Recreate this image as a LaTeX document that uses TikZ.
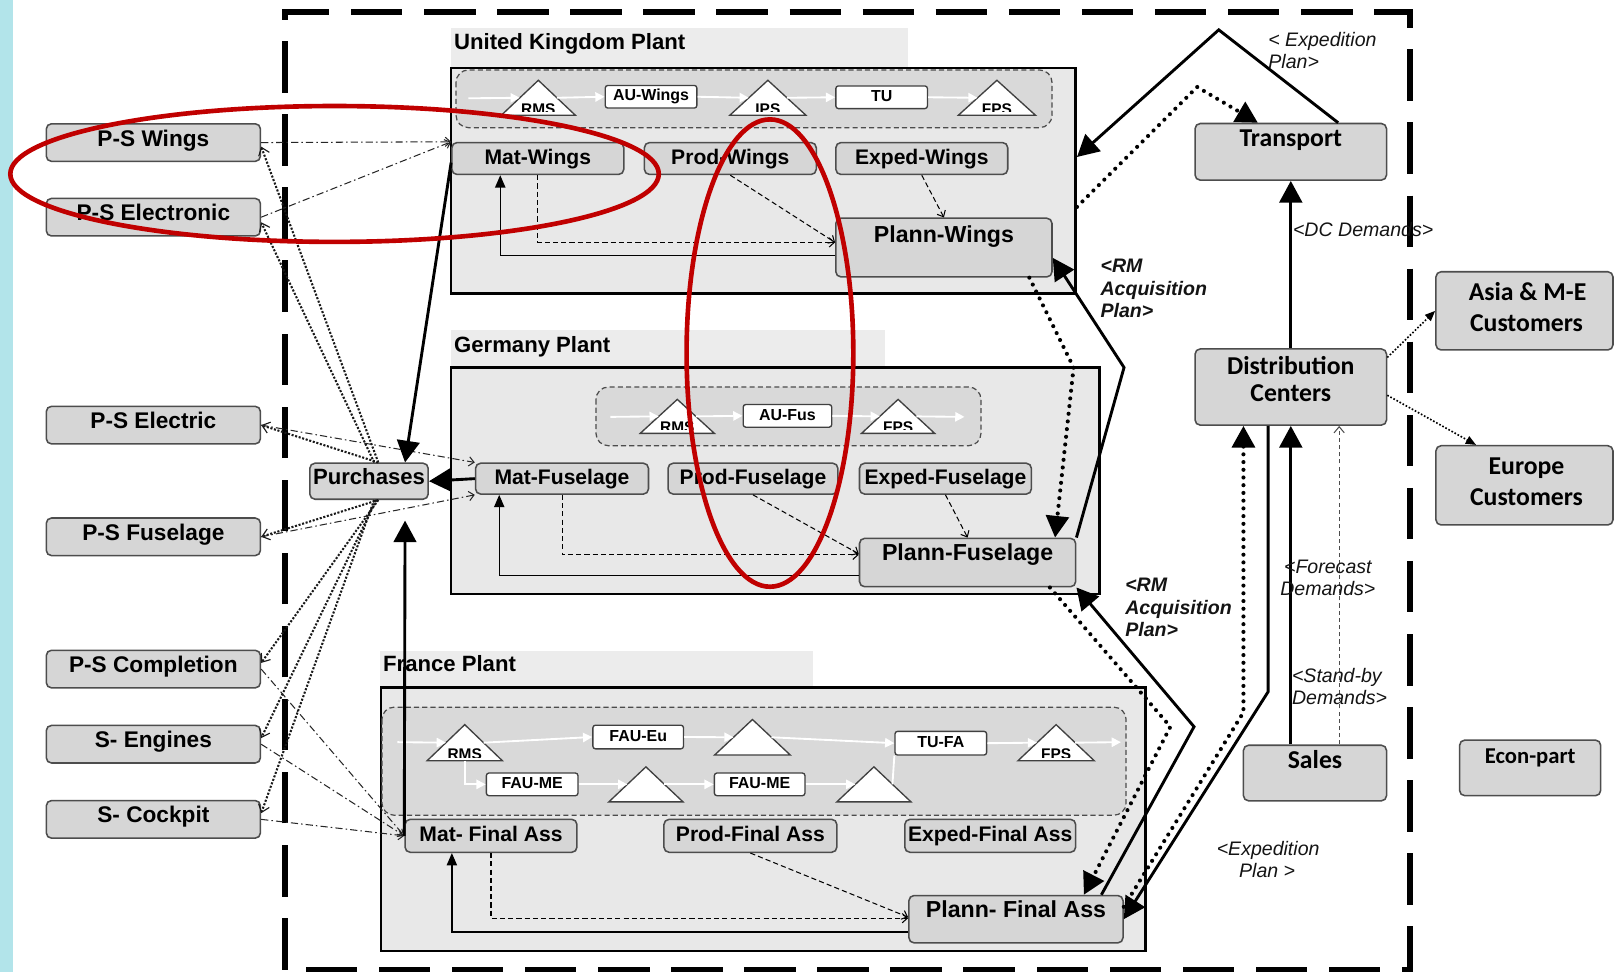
\documentclass[tikz,border=0pt]{standalone}
\usepackage{fontspec}
\setmainfont{Liberation Sans}
\newfontfamily\carl{Carlito}
\usetikzlibrary{arrows.meta}

\definecolor{boxfill}{HTML}{D6D6D6}
\definecolor{boxline}{HTML}{4D4D4D}
\definecolor{plantfill}{HTML}{E8E8E8}
\definecolor{labfill}{HTML}{ECECEC}
\definecolor{flowfill}{HTML}{D9D9D9}
\definecolor{markred}{HTML}{C00000}
\definecolor{stripcol}{HTML}{B2E4EA}
\definecolor{labtext}{HTML}{141414}

% triangle buffer: name, centre x, base y, width, height, label
\newcommand{\plantri}[6]{%
  \draw[trist] (#2-#4/2,#3) -- (#2+#4/2,#3) -- (#2,#3-#5) -- cycle;
  \coordinate (#1w) at (#2-#4/4,#3-#5/2);
  \coordinate (#1e) at (#2+#4/4,#3-#5/2);
  \coordinate (#1b) at (#2,#3);
  \begin{scope}
    \clip (#2-#4/2,#3-3.5) -- (#2+#4/2,#3-3.5) -- (#2,#3-#5) -- cycle;
    \node[trilab, anchor=base] (#1l) at (#2,#3-1) {#6};
  \end{scope}}

\begin{document}
\begin{tikzpicture}[x=1pt,y=-1pt,
  box/.style={draw=boxline, fill=boxfill, rounded corners=5pt, line width=1.5pt, inner sep=0pt},
  lbox/.style={box, minimum width=208pt, minimum height=36.5pt,
    font=\fontsize{22}{24}\selectfont\bfseries, text height=15.7pt, text depth=9pt},
  pbox/.style={box, minimum width=167pt, minimum height=31pt,
    font=\fontsize{20.5}{22}\selectfont\bfseries, text height=14.7pt, text depth=4pt},
  ubox/.style={draw=black!75, fill=white, rounded corners=2.5pt, line width=1.3pt, inner sep=0pt,
    font=\fontsize{15.5}{16}\selectfont\bfseries, text height=11.1pt, text depth=3pt},
  plant/.style={draw=black, fill=plantfill, line width=2.6pt, inner sep=0pt},
  flowrect/.style={draw=black!70, fill=flowfill, line width=1.2pt, dash pattern=on 5pt off 3pt, rounded corners=12pt},
  trist/.style={draw=black!75, fill=white, line width=1.3pt},
  trilab/.style={font=\fontsize{15}{16}\selectfont\bfseries, inner sep=0pt},
  plab/.style={font=\fontsize{21.5}{23}\selectfont\bfseries, inner sep=0pt, text height=15.4pt, text depth=0pt, anchor=west},
  ptxt/.style={font=\fontsize{22.5}{24}\selectfont\bfseries, inner sep=0pt, text height=16.1pt, text depth=0pt},
  rtxt/.style={font=\fontsize{25}{27}\selectfont\carl\bfseries, inner sep=0pt, text height=16.1pt, text depth=0pt},
  lab/.style={font=\fontsize{19}{21}\selectfont\itshape, text=labtext, inner sep=0pt, text height=13.6pt, text depth=0pt},
  labb/.style={lab, font=\fontsize{19}{21}\selectfont\bfseries\itshape},
  border/.style={line width=6pt, dash pattern=on 50pt off 21pt},
  thickarr/.style={line width=2.8pt, -{Triangle[length=21pt,width=22pt]}},
  dotarr/.style={line width=4pt, line cap=round, line join=round, dash pattern=on 0pt off 7.5pt, -{Triangle[length=21pt,width=22pt]}},
  finedot/.style={line width=2pt, draw=black!90, dash pattern=on 2pt off 1.6pt, -{Straight Barb[length=7pt,width=11pt,line width=1.1pt]}},
  dashdot/.style={line width=1pt, draw=black!85, dash pattern=on 7pt off 3pt on 1.5pt off 3pt, -{Straight Barb[length=5pt,width=9pt]}},
  innerdash/.style={line width=1pt, dash pattern=on 5pt off 3pt, -{Straight Barb[length=5pt,width=9pt]}},
  innersolid/.style={line width=1.3pt, -{Triangle[length=12pt,width=10pt]}},
  flowarr/.style={draw=white, line width=1.8pt, -{Triangle[length=9pt,width=9pt]}},
  flowline/.style={draw=white, line width=1.8pt},
  custdot/.style={line width=1.6pt, dash pattern=on 1.6pt off 1.8pt, -{Triangle[length=10pt,width=8pt]}},
  standby/.style={line width=1pt, draw=black!70, dash pattern=on 4pt off 3pt, -{Straight Barb[length=6pt,width=10pt]}},
  redell/.style={draw=markred, line width=4.5pt}
]
\useasboundingbox (0,0) rectangle (1568,944);
\fill[white] (0,0) rectangle (1568,944);
\fill[stripcol] (0,0) rectangle (13,944);

% enterprise boundary
\draw[border] (277,942) -- (277,12) -- (1370,12) -- (1370,942) -- cycle;

% ---------- plants ----------
\fill[labfill] (438,27) rectangle (882,66);
\fill[labfill] (438,321) rectangle (860,357);
\fill[labfill] (369,632) rectangle (790,668);
\node[plant, minimum width=607pt, minimum height=219pt] (uk) at (741.5,175.5) {};
\node[plant, minimum width=630pt, minimum height=220pt] (de) at (753,467) {};
\node[plant, minimum width=743pt, minimum height=256pt] (fr) at (741.5,796) {};
\node[plab] (ukl) at (441,40.5) {United Kingdom Plant};
\node[plab] (del) at (441,334.5) {Germany Plant};
\node[plab] (frl) at (372,645) {France Plant};

% material flow strips
\draw[flowrect] (443,68) rectangle (1022,124);
\draw[flowrect] (579,376) rectangle (953,433);
\draw[flowrect] (371,687) rectangle (1094,792);

% UK flow
\plantri{ukRMS}{523}{112}{72}{34}{RMS}
\plantri{ukIPS}{746}{112}{74}{34}{IPS}
\plantri{ukFPS}{968.5}{112}{75}{34}{FPS}
\node[ubox, minimum width=89pt, minimum height=22pt] (auW) at (632.5,94) {AU-Wings};
\node[ubox, minimum width=89pt, minimum height=22pt] (tuW) at (856.5,94.5) {TU};
\coordinate (ukin) at (455,95.5);
\draw[flowarr] (ukin) -- (ukRMSw);
\draw[flowarr] (ukRMSe) -- (auW.west);
\draw[flowarr] (auW.east) -- (ukIPSw);
\draw[flowarr] (ukIPSe) -- (tuW.west);
\draw[flowarr] (tuW.east) -- (ukFPSw);

% Germany flow
\plantri{deRMS}{658}{421}{72}{33}{RMS}
\plantri{deFPS}{872.5}{421}{71}{33}{FPS}
\node[ubox, minimum width=86pt, minimum height=22pt] (auF) at (765,404) {AU-Fus};
\coordinate (dein) at (593,405);
\coordinate (deout) at (937,405);
\draw[flowarr] (dein) -- (deRMSw);
\draw[flowarr] (deRMSe) -- (auF.west);
\draw[flowarr] (auF.east) -- (deFPSw);
\draw[flowarr] (deFPSe) -- (deout);

% France flow
\plantri{frRMS}{451.5}{739}{73}{35}{RMS}
\plantri{frT1}{731}{733.5}{73.5}{34.5}{}
\plantri{frFPS}{1026}{739}{74}{35}{FPS}
\plantri{frT2}{627.5}{779}{72}{34}{}
\plantri{frT3}{849}{779}{72}{34}{}
\node[ubox, minimum width=88pt, minimum height=23pt] (fauEu) at (620,716) {FAU-Eu};
\node[ubox, minimum width=89pt, minimum height=23pt] (tuFA) at (914,722) {TU-FA};
\node[ubox, minimum width=89pt, minimum height=22pt] (fauME1) at (517,762) {FAU-ME};
\node[ubox, minimum width=88pt, minimum height=22pt] (fauME2) at (738,762) {FAU-ME};
\coordinate (frin) at (386,721);
\coordinate (frout) at (1089,721);
\draw[flowarr] (frin) -- (frRMSw);
\draw[flowarr] (frRMSe) -- (fauEu.west);
\draw[flowarr] (fauEu.east) -- (frT1w);
\draw[flowarr] (frT1e) -- (tuFA.west);
\draw[flowarr] (tuFA.east) -- (frFPSw);
\draw[flowarr] (frFPSe) -- (frout);
\draw[flowarr] (frRMSb) |- (fauME1.west);
\draw[flowarr] (fauME1.east) -- (frT2w);
\draw[flowarr] (frT2e) -- (fauME2.west);
\draw[flowarr] (fauME2.east) -- (frT3w);
\draw[flowline] (frT3e) -- (tuFA.south west);

% ---------- functional boxes ----------
\node[pbox] (matW) at (522.5,154) {Mat-Wings};
\node[pbox] (prodW) at (709.5,154) {Prod-Wings};
\node[pbox] (expW) at (895.5,154) {Exped-Wings};
\node[box, minimum width=210pt, minimum height=57pt] (plW) at (917,240.5) {};
\node[ptxt] (plWt) at ([yshift=-16pt]plW.north) {Plann-Wings};

\node[pbox, minimum width=168pt, minimum height=30pt] (matF) at (546,465) {Mat-Fuselage};
\node[pbox, minimum width=165pt, minimum height=30pt] (prodF) at (731.5,465) {Prod-Fuselage};
\node[pbox, minimum width=167pt, minimum height=30pt] (expF) at (918.5,465) {Exped-Fuselage};
\node[box, minimum width=210pt, minimum height=47pt] (plF) at (940,546.5) {};
\node[ptxt] (plFt) at ([yshift=-14pt]plF.north) {Plann-Fuselage};

\node[pbox, minimum height=32pt] (matA) at (477,812) {Mat- Final Ass};
\node[pbox, minimum width=168pt, minimum height=32pt] (prodA) at (729,812) {Prod-Final Ass};
\node[pbox, minimum width=166pt, minimum height=32pt] (expA) at (962,812) {Exped-Final Ass};
\node[box, minimum width=208pt, minimum height=46pt] (plA) at (987,893) {};
\node[ptxt] (plAt) at ([yshift=-13.6pt]plA.north) {Plann- Final Ass};

% suppliers
\node[lbox] (psw) at (149,138.5) {P-S Wings};
\node[lbox] (pse) at (149,211) {P-S Electronic};
\node[lbox] (psel) at (149,413) {P-S Electric};
\node[lbox] (psf) at (149,521.5) {P-S Fuselage};
\node[lbox] (psc) at (149,650) {P-S Completion};
\node[lbox] (se) at (149,723) {S- Engines};
\node[lbox] (sc) at (149,796) {S- Cockpit};
\node[box, minimum width=115pt, minimum height=35pt, font=\fontsize{21.5}{23}\selectfont\bfseries,
  text height=15.4pt, text depth=9pt] (pur) at (358.5,467.5) {Purchases};

% distribution side
\node[box, minimum width=186pt, minimum height=55pt] (tr) at (1254,147.5) {};
\node[rtxt] (trt) at ([yshift=-15pt]tr.north) {Transport};
\node[box, minimum width=186pt, minimum height=74pt] (dc) at (1254,376) {};
\node[rtxt] (dct1) at (1254,356) {Distribution};
\node[rtxt] (dct2) at (1254,382) {Centers};
\node[box, minimum width=139pt, minimum height=54pt] (sales) at (1277.5,751) {};
\node[rtxt] (salest) at ([yshift=-15pt]sales.north) {Sales};
\node[box, minimum width=172pt, minimum height=76pt] (asia) at (1481,302) {};
\node[rtxt] (asiat1) at (1484,284) {Asia \& M-E};
\node[rtxt] (asiat2) at (1483,314) {Customers};
\node[box, minimum width=172pt, minimum height=77pt] (eu) at (1481,471.5) {};
\node[rtxt] (eut1) at (1483,453) {Europe};
\node[rtxt] (eut2) at (1483,483) {Customers};
\node[box, minimum width=137pt, minimum height=54pt] (econ) at (1486.5,746) {};
\node[rtxt, font=\fontsize{22}{24}\selectfont\carl\bfseries, text height=14.2pt] (econt) at ([yshift=-16pt]econ.north) {Econ-part};

% ---------- connectors inside the plants ----------
\draw[innerdash] (prodW.south) -- ([yshift=5pt]plW.west);
\draw[innerdash] (expW.south) -- (plW.north);
\draw[innerdash] (matW.south) |- ([yshift=5pt]plW.west);
\draw[innersolid] ([yshift=-8pt]plW.west) -| ([xshift=-36.5pt]matW.south);

\draw[innerdash] (prodF.south) -- ([yshift=8.5pt]plF.west);
\draw[innerdash] (expF.south) -- (plF.north);
\draw[innerdash] (matF.south) |- ([yshift=7.5pt]plF.west);
\draw[innersolid] ([yshift=-12.5pt]plF.west) -| ([xshift=-61pt]matF.south);

\draw[innerdash] (prodA.south) -- ([yshift=2pt]plA.west);
\draw[innerdash] (matA.south) |- ([yshift=1pt]plA.west);
\draw[innersolid] ([yshift=-12.5pt]plA.west) -| ([xshift=-38pt]matA.south);

% ---------- purchasing links ----------
\draw[finedot] ([xshift=9pt]pur.north) -- ([yshift=-4pt]psw.east);
\draw[finedot] ([xshift=5pt]pur.north) -- ([yshift=-5pt]pse.east);
\draw[finedot] ([xshift=9pt]pur.north) -- (psel.east);
\draw[finedot] ([xshift=9pt]pur.south) -- (psf.east);
\draw[finedot] ([xshift=9pt]pur.south) -- ([yshift=6pt]psc.east);
\draw[finedot] ([xshift=7pt]pur.south) -- ([yshift=6pt]se.east);
\draw[finedot] ([xshift=5pt]pur.south) -- ([yshift=6pt]sc.east);

\draw[dashdot] (psw.east) -- (matW.north west);
\draw[dashdot] (pse.east) -- (matW.north west);
\draw[dashdot] (psel.east) -- (matF.north west);
\draw[dashdot] (psf.east) -- (matF.south west);
\draw[dashdot] (psc.east) -- (matA.west);
\draw[dashdot] (se.east) -- (matA.west);
\draw[dashdot] (sc.east) -- (matA.west);

\draw[thickarr] ([yshift=-4pt]matW.west) -- ([xshift=35pt]pur.north);
\draw[thickarr] (matF.west) -- (pur.east);
\draw[thickarr] (matA.west) -- ([xshift=35pt,yshift=-20pt]pur.south);

% ---------- planning and distribution links ----------
\coordinate (b1) at (1184,29);
\coordinate (b2) at (1163,84.5);
\coordinate (b3) at (1092,357);
\coordinate (b4) at (1043,357);
\coordinate (b5) at (1160,706);
\coordinate (b6) at (1137,706);
\coordinate (b7) at (1232,672);
\coordinate (b8) at (1208,692);

\draw[thickarr] (dc.north) -- (tr.south);
\draw[thickarr] ([xshift=46pt]tr.north) -- (b1) -- ([yshift=23pt]uk.east);
\draw[dotarr] ([yshift=-25.5pt]uk.east) -- (b2) -- ([xshift=-32pt]tr.north);
\draw[thickarr] (plF.north east) -- (b3) -- ([yshift=-10pt]plW.east);
\draw[dotarr] ([xshift=83pt]plW.south) -- (b4) -- ([xshift=85pt]plF.north);
\draw[thickarr] ([xshift=83pt]plA.north) -- (b5) -- (plF.south east);
\draw[dotarr] ([xshift=80pt]plF.south) -- (b6) -- ([xshift=66pt]plA.north);
\draw[thickarr] ([xshift=-22pt]dc.south) -- (b7) -- (plA.east);
\draw[dotarr] ([yshift=12pt]plA.east) -- (b8) -- ([xshift=-46pt]dc.south);
\draw[thickarr] ([xshift=-23.5pt]sales.north) -- (dc.south);
\draw[standby] ([xshift=23.5pt]sales.north) -- ([xshift=47pt]dc.south);
\draw[custdot] ([yshift=-9pt]dc.north east) -- (asia.west);
\draw[custdot] ([yshift=-8pt]dc.east) -- ([xshift=-47pt]eu.north);

% ---------- flow labels ----------
\node[lab, anchor=west] (l1a) at (1232,38) {< Expedition};
\node[lab, anchor=west] (l1b) at (1232,60) {Plan>};
\node[labb, anchor=west] (l2a) at (1069,258) {<RM};
\node[labb, anchor=west] (l2b) at (1069,280) {Acquisition};
\node[labb, anchor=west] (l2c) at (1069,302) {Plan>};
\node[labb, anchor=west] (l3a) at (1093,568) {<RM};
\node[labb, anchor=west] (l3b) at (1093,590) {Acquisition};
\node[labb, anchor=west] (l3c) at (1093,612) {Plan>};
\node[lab, anchor=west] (l4) at (1256,223) {<DC Demands>};
\node[lab] (l5a) at (1290,550) {<Forecast};
\node[lab] (l5b) at (1290,572) {Demands>};
\node[lab, anchor=west] (l6a) at (1255,656) {<Stand-by};
\node[lab, anchor=west] (l6b) at (1255,678) {Demands>};
\node[lab] (l7a) at (1232,824) {<Expedition};
\node[lab] (l7b) at (1231,846) {Plan >};

% ---------- highlight marks ----------
\draw[redell] (325,169) ellipse [x radius=315pt, y radius=66pt];
\draw[redell] (748,343) ellipse [x radius=81pt, y radius=227pt];
\end{tikzpicture}
\end{document}
